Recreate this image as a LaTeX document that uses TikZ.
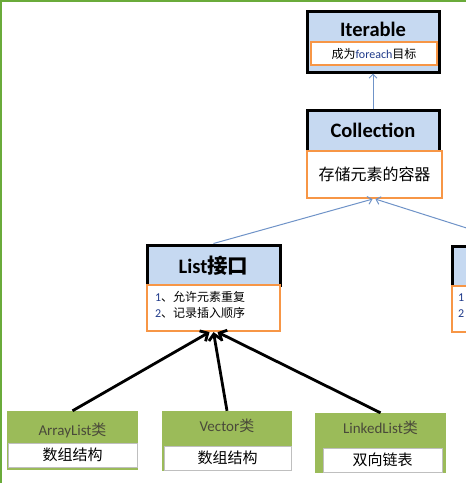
\documentclass[tikz,border=0pt]{standalone}
\usepackage{fontspec}
\setmainfont{Carlito}
\newfontfamily\cjk{Noto Sans CJK SC}
\usepackage{tikz}
\usetikzlibrary{arrows.meta, positioning}
\definecolor{headblue}{HTML}{C6D9F1}
\definecolor{noteorange}{HTML}{F79646}
\definecolor{classgreen}{HTML}{9BBB59}
\definecolor{linkblue}{HTML}{6F93C8}
\definecolor{pagegreen}{HTML}{6AAB3A}
\definecolor{numblue}{HTML}{1F3A8A}
\definecolor{classink}{HTML}{4A4A3A}
\definecolor{implgray}{HTML}{BFBFBF}
\newcommand\zh[1]{{\cjk #1}}
\tikzstyle{headbox} = [rectangle, draw=black, fill=headblue, line width=3pt, minimum width=132pt, inner sep=0pt]
\tikzstyle{headtext} = [inner sep=0pt, font=\fontsize{20.5}{23}\selectfont\bfseries]
\tikzstyle{notebox} = [rectangle, draw=noteorange, fill=white, line width=2.2pt, inner sep=0pt]
\tikzstyle{notetext} = [inner sep=0pt, align=left, anchor=west, font=\fontsize{12}{16}\selectfont]
\tikzstyle{classbox} = [rectangle, fill=classgreen, minimum width=131pt, minimum height=59pt, inner sep=0pt]
\tikzstyle{classlabel} = [inner sep=0pt, text=classink, font=\fontsize{15}{18}\selectfont]
\tikzstyle{implbox} = [rectangle, draw=implgray, fill=white, line width=1pt, minimum height=24pt, inner sep=0pt,
  font=\cjk\fontsize{15}{18}\selectfont]
\tikzstyle{linkarrow} = [draw=linkblue, line width=1pt, -{Straight Barb[length=4pt,width=8pt]}]
\tikzstyle{inharrow} = [line width=2.8pt, -{Straight Barb[length=6pt,width=12pt]}]

\begin{document}
\begin{tikzpicture}[x=1pt, y=-1pt]
  \clip (0,0) rectangle (466,483);
  \fill[white] (0,0) rectangle (466,483);
  \draw[pagegreen, line width=2pt] (0,1) -- (466,1) (1,0) -- (1,483);

  % interfaces
  \node (iter) [headbox, minimum height=61pt] at (373,41.5) {};
  \node (itertitle) [headtext] at (373,29) {Iterable};
  \node (iterdesc) [notebox, minimum width=126pt, minimum height=23pt, font=\fontsize{12}{14}\selectfont]
    at (374,53.5) {\zh{成为}\textcolor{numblue}{foreach}\zh{目标}};

  \node (coll) [headbox, minimum height=42pt] at (373,131) {};
  \node (colltitle) [headtext] at (373,130) {Collection};
  \node (colldesc) [notebox, minimum width=135pt, minimum height=47pt, font=\cjk\fontsize{16}{18}\selectfont]
    at (374.5,174.5) {存储元素的容器};

  \node (list) [headbox, minimum width=133pt, minimum height=40pt] at (213.5,265) {};
  \node (listtitle) [headtext] at (213.5,266) {List\zh{接口}};
  \node (listdesc) [notebox, minimum width=133pt, minimum height=46pt] at (213.5,308) {};
  \node (listnotes) [notetext] at ([xshift=9pt, yshift=3pt]listdesc.west)
    {\textcolor{numblue}{1}\zh{、允许元素重复}\\\textcolor{numblue}{2}\zh{、记录插入顺序}};

  \node (set) [headbox, minimum width=133pt, minimum height=40pt] at (518.5,266) {};
  \node (setdesc) [notebox, minimum width=133pt, minimum height=46pt] at (518.5,309) {};
  \node (setnotes) [notetext] at ([xshift=7pt, yshift=3pt]setdesc.west)
    {\textcolor{numblue}{1}\\\textcolor{numblue}{2}};

  % classes
  \node (alist) [classbox] at (72.5,440.5) {};
  \node (alisttitle) [classlabel] at (72.5,430) {ArrayList\zh{类}};
  \node (alistimpl) [implbox, minimum width=129pt] at (72.5,455) {数组结构};

  \node (vec) [classbox, minimum width=130pt, minimum height=60pt] at (227,441) {};
  \node (vectitle) [classlabel] at (227,426) {Vector\zh{类}};
  \node (vecimpl) [implbox, minimum width=127pt] at (227.5,458) {数组结构};

  \node (llist) [classbox, minimum height=60pt] at (380.5,443) {};
  \node (llisttitle) [classlabel] at (380.5,428) {LinkedList\zh{类}};
  \node (llistimpl) [implbox, minimum width=119pt] at (382.5,460) {双向链表};

  % connectors
  \draw[linkarrow] (coll.north) -- (iter.south);
  \draw[linkarrow] (list.north) -- ([xshift=-2pt]colldesc.south);
  \draw[linkarrow] (set.north) -- ([xshift=1pt]colldesc.south);
  \draw[inharrow] (alist.north) -- ([xshift=-4pt]listdesc.south);
  \draw[inharrow] (vec.north) -- (listdesc.south);
  \draw[inharrow] (llist.north) -- ([xshift=4pt]listdesc.south);
\end{tikzpicture}
\end{document}
